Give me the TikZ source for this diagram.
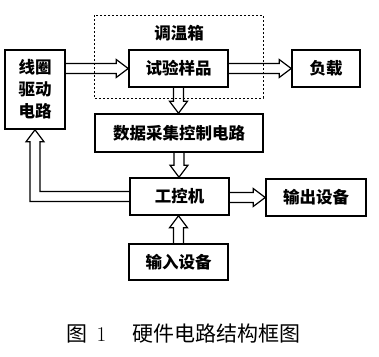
\documentclass[tikz,border=0pt]{standalone}
\usepackage{fontspec}
\newfontfamily\cjk{Noto Sans CJK SC}
\usetikzlibrary{calc}
\tikzset{
  box/.style={draw, line width=1.6pt, inner sep=0pt, font=\cjk\bfseries\fontsize{16.5}{22}\selectfont, align=center},
  arr/.style={draw, line width=1.2pt, line join=miter},
  oven/.style={draw, line width=0.9pt, dash pattern=on 2pt off 2pt},
}
\newcommand\arrR[2]{\draw[arr] let \p1=(#1.east), \p2=(#2.west) in (\x1,\y2+5pt) -- (\x2-12pt,\y2+5pt) -- (\x2-12pt,\y2+9pt) -- (\x2,\y2) -- (\x2-12pt,\y2-9pt) -- (\x2-12pt,\y2-5pt) -- (\x1,\y2-5pt);}
\newcommand\arrD[2]{\draw[arr] let \p1=(#1.south), \p2=(#2.north) in (\x1-5pt,\y1) -- (\x1-5pt,\y2+12pt) -- (\x1-9pt,\y2+12pt) -- (\x1,\y2) -- (\x1+9pt,\y2+12pt) -- (\x1+5pt,\y2+12pt) -- (\x1+5pt,\y1);}
\newcommand\arrU[2]{\draw[arr] let \p1=(#1.north), \p2=(#2.south) in (\x1-5pt,\y1) -- (\x1-5pt,\y2-12pt) -- (\x1-9pt,\y2-12pt) -- (\x1,\y2) -- (\x1+9pt,\y2-12pt) -- (\x1+5pt,\y2-12pt) -- (\x1+5pt,\y1);}
\begin{document}
\begin{tikzpicture}[x=1pt,y=-1pt]
\useasboundingbox[fill=white] (0,0) rectangle (379,356);
% oven (dashed)
\draw[oven] (94,15) rectangle (263,98);
\node[font=\cjk\bfseries\fontsize{16.5}{20}\selectfont] (title) at (179,33) {调温箱};
% boxes
\node[box, minimum width=60pt, minimum height=79pt] (coil) at (35,89.5) {线圈\\驱动\\电路};
\node[box, minimum width=99pt, minimum height=37pt] (sample) at (178.5,68.5) {试验样品};
\node[box, minimum width=68pt, minimum height=37pt] (load) at (326,68.5) {负载};
\node[box, minimum width=168pt, minimum height=38pt] (daq) at (179,133) {数据采集控制电路};
\node[box, minimum width=99pt, minimum height=37pt] (ipc) at (179.5,196.5) {工控机};
\node[box, minimum width=100pt, minimum height=37pt] (out) at (316,197.5) {输出设备};
\node[box, minimum width=99pt, minimum height=36pt] (in) at (178.5,262) {输入设备};
% arrows
\arrR{coil}{sample}
\arrR{sample}{load}
\arrR{ipc}{out}
\arrD{sample}{daq}
\arrD{daq}{ipc}
\arrU{in}{ipc}
\draw[arr] let \p1=(ipc.west), \p2=(coil.south) in
  (\x1,\y1-5pt) -- (\x2-5pt,\y1-5pt) -- (\x2-5pt,\y2-12pt) -- (\x2-9pt,\y2-12pt) -- (\x2,\y2)
  -- (\x2+9pt,\y2-12pt) -- (\x2+5pt,\y2-12pt) -- (\x2+5pt,\y1+5pt) -- (\x1,\y1+5pt);
% caption
\node[font=\fontsize{21}{24}\selectfont] (cap) at (183.5,334) {{\cjk 图}\hspace{9pt}1\hspace{26pt}{\cjk 硬件电路结构框图}};
\end{tikzpicture}
\end{document}
